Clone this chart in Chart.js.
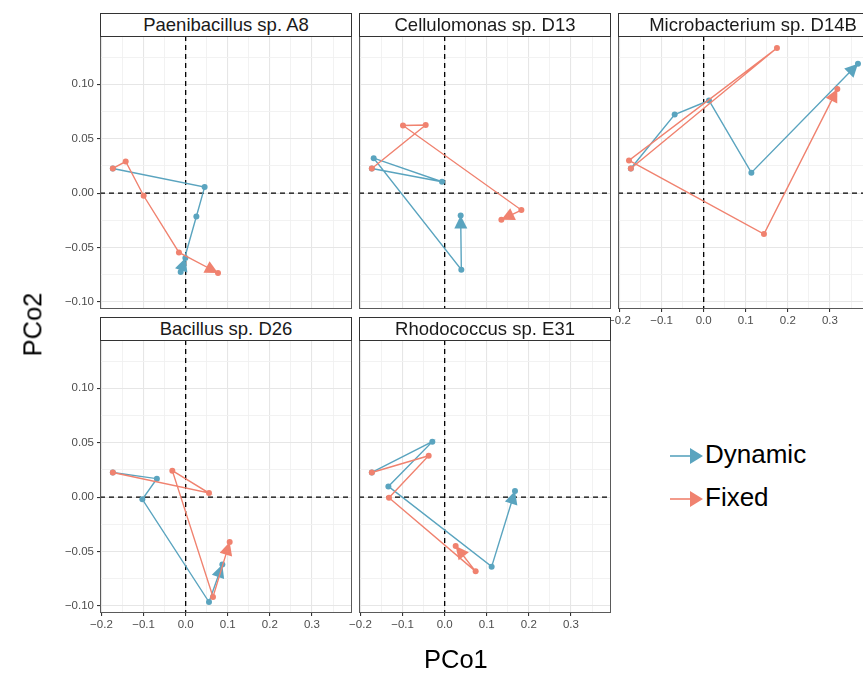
<!DOCTYPE html>
<html><head><meta charset="utf-8">
<script src="https://cdn.jsdelivr.net/npm/chart.js@4.4.0/dist/chart.umd.min.js"></script>
<style>
html,body{margin:0;padding:0;width:863px;height:675px;overflow:hidden;background:#fff;font-family:"Liberation Sans",Arial,Helvetica,sans-serif;}
#root{position:relative;width:863px;height:675px;overflow:hidden;}
canvas.cv{position:absolute;z-index:1;}
.strip{position:absolute;box-sizing:border-box;border:1px solid #333;background:#fff;color:#1a1a1a;font-size:18.5px;line-height:21px;text-align:center;white-space:nowrap;overflow:hidden;z-index:2;}
.axtitle{position:absolute;font-size:25.5px;color:#000;white-space:nowrap;z-index:3;}
.leg{position:absolute;font-size:26px;color:#000;white-space:nowrap;z-index:3;line-height:30px;}
</style></head><body>
<div id="root"></div>
<script>
// ---------------- data ----------------
const PANELS = ['Paenibacillus sp. A8','Cellulomonas sp. D13','Microbacterium sp. D14B','Bacillus sp. D26','Rhodococcus sp. E31'];
const SERIES = ['Dynamic','Fixed'];
const DYNAMIC_PCO1 = [
  [-0.173, 0.045, 0.0254, -0.0119, -0.0007],
  [-0.173, -0.0063, -0.1686, 0.0396, 0.038],
  [-0.173, -0.0689, 0.0126, 0.1133, 0.3665],
  [-0.173, -0.0684, -0.1029, 0.0554, 0.0871],
  [-0.173, -0.0293, -0.1337, 0.1116, 0.167]
];
const DYNAMIC_PCO2 = [
  [0.0226, 0.0055, -0.0215, -0.0726, -0.0597],
  [0.0226, 0.0104, 0.0321, -0.0705, -0.0206],
  [0.0226, 0.0722, 0.0851, 0.0187, 0.1188],
  [0.0226, 0.0169, -0.0021, -0.0965, -0.0621],
  [0.0226, 0.0509, 0.0098, -0.064, 0.0055]
];
const FIXED_PCO1 = [
  [-0.173, -0.1425, -0.0998, -0.016, 0.0768],
  [-0.173, -0.0451, -0.099, 0.1822, 0.1347],
  [-0.173, 0.1741, -0.1774, 0.1432, 0.3175],
  [-0.173, 0.0554, -0.0317, 0.0649, 0.1045],
  [-0.173, -0.038, -0.1323, 0.0736, 0.0261]
];
const FIXED_PCO2 = [
  [0.0226, 0.029, -0.0025, -0.0546, -0.0735],
  [0.0226, 0.0625, 0.0621, -0.0156, -0.0245],
  [0.0226, 0.1333, 0.030, -0.0377, 0.0956],
  [0.0226, 0.0037, 0.0243, -0.0919, -0.0414],
  [0.0226, 0.038, -0.0006, -0.0683, -0.045]
];
const X_TICKS = [-0.2, -0.1, 0, 0.1, 0.2, 0.3];
const X_TICK_LABELS = ['\u22120.2', '\u22120.1', '0.0', '0.1', '0.2', '0.3'];
const X_MINOR = [-0.15, -0.05, 0.05, 0.15, 0.25, 0.35];
const Y_TICKS = [-0.10, -0.05, 0, 0.05, 0.10];
const Y_TICK_LABELS = ['\u22120.10', '\u22120.05', '0.00', '0.05', '0.10'];
const Y_MINOR = [-0.075, -0.025, 0.025, 0.075, 0.125];
const X_RANGE = [-0.2035, 0.3951];
const Y_RANGE = [-0.1066, 0.1444];
const REF_LINE = 0;
const X_TITLE = 'PCo1', Y_TITLE = 'PCo2';

// ---------------- layout / style ----------------
const COLORS = ['#5AA4BF', '#F0826F'];
const COL_LEFT = [100, 359, 618], ROW_TOP = [36, 340], PW = 252, PH = 273;
const GRID_POS = [[0,0],[0,1],[0,2],[1,0],[1,1]];
const STRIP_SHIFT = [0, 0, 18, 0, 0];
const PAD_L = 60, PAD_R = 22, PAD_T = 12, PAD_B = 32, YAXIS_W = 60, XAXIS_H = 22;
const FONT = '"Liberation Sans", Arial, Helvetica, sans-serif';
const root = document.getElementById('root');

const isIn = (arr, v) => arr.some(t => Math.abs(t - v) < 1e-9);

const zeroLines = {
  id: 'zeroLines',
  beforeDatasetsDraw(chart) {
    const {ctx, chartArea: a, scales: {x, y}} = chart;
    const px = x.getPixelForValue(REF_LINE), py = y.getPixelForValue(REF_LINE);
    ctx.save();
    ctx.beginPath(); ctx.rect(a.left, a.top, a.width, a.height); ctx.clip();
    ctx.setLineDash([5, 4]); ctx.strokeStyle = '#000'; ctx.lineWidth = 1.3;
    ctx.beginPath(); ctx.moveTo(px, a.top); ctx.lineTo(px, a.bottom);
    ctx.moveTo(a.left, py); ctx.lineTo(a.right, py); ctx.stroke();
    ctx.restore();
  }
};
const arrowHeads = {
  id: 'arrowHeads',
  afterDatasetDraw(chart, args) {
    const pts = args.meta.data; const n = pts.length; if (n < 2) return;
    const ds = chart.data.datasets[args.index];
    const p1 = pts[n-1], p0 = pts[n-2];
    const ang = Math.atan2(p1.y - p0.y, p1.x - p0.x);
    const L = 13, H = 6.5;
    const ctx = chart.ctx; ctx.save();
    ctx.fillStyle = ds.borderColor;
    ctx.translate(p1.x, p1.y); ctx.rotate(ang);
    ctx.beginPath(); ctx.moveTo(0, 0); ctx.lineTo(-L, -H); ctx.lineTo(-L, H); ctx.closePath(); ctx.fill();
    ctx.restore();
  }
};
const panelBorder = {
  id: 'panelBorder',
  afterDraw(chart) {
    const {ctx, chartArea: a} = chart; ctx.save();
    ctx.strokeStyle = '#5a5a5a'; ctx.lineWidth = 1;
    ctx.strokeRect(Math.round(a.left) + 0.5, Math.round(a.top) + 0.5, Math.round(a.width) - 1, Math.round(a.height) - 1);
    ctx.restore();
  }
};

PANELS.forEach((name, i) => {
  const [r, c] = GRID_POS[i];
  const showY = c === 0;
  const showX = r === 1 || i === 2;
  const cv = document.createElement('canvas');
  cv.className = 'cv';
  const W = PAD_L + PW + PAD_R, H = PAD_T + PH + PAD_B;
  cv.width = W; cv.height = H;
  cv.style.left = (COL_LEFT[c] - PAD_L) + 'px';
  cv.style.top = (ROW_TOP[r] - PAD_T) + 'px';
  cv.style.width = W + 'px'; cv.style.height = H + 'px';
  root.appendChild(cv);

  const strip = document.createElement('div');
  strip.className = 'strip';
  strip.textContent = name;
  strip.style.left = COL_LEFT[c] + 'px';
  strip.style.top = (ROW_TOP[r] - 23) + 'px';
  strip.style.width = PW + 'px'; strip.style.height = '24px';
  strip.style.paddingLeft = STRIP_SHIFT[i] + 'px';
  root.appendChild(strip);

  const xs = [DYNAMIC_PCO1[i], FIXED_PCO1[i]], ys = [DYNAMIC_PCO2[i], FIXED_PCO2[i]];
  const datasets = SERIES.map((s, k) => ({
    label: s,
    data: xs[k].map((x, j) => ({x, y: ys[k][j]})),
    showLine: true,
    borderColor: COLORS[k], backgroundColor: COLORS[k],
    borderWidth: 1.4, pointRadius: 3, pointBorderWidth: 0, pointHoverRadius: 3,
    order: k === 0 ? 1 : 0
  }));

  new Chart(cv, {
    type: 'scatter',
    data: {datasets},
    options: {
      responsive: false, maintainAspectRatio: false, animation: false, devicePixelRatio: 1,
      layout: {padding: {left: showY ? PAD_L - YAXIS_W : PAD_L, right: PAD_R, top: PAD_T, bottom: showX ? PAD_B - XAXIS_H : PAD_B}},
      plugins: {legend: {display: false}, tooltip: {enabled: false}},
      scales: {
        x: {
          type: 'linear', min: X_RANGE[0], max: X_RANGE[1],
          afterBuildTicks: s => { s.ticks = X_TICKS.concat(X_MINOR).sort((a, b) => a - b).map(v => ({value: v})); },
          afterFit: s => { s.height = showX ? XAXIS_H : 0; },
          border: {display: false},
          grid: {
            color: ctx => isIn(X_TICKS, ctx.tick.value) ? '#E6E6E6' : '#F0F0F0',
            lineWidth: ctx => isIn(X_TICKS, ctx.tick.value) ? 1.1 : 0.9,
            drawTicks: showX, tickLength: 3,
            tickColor: ctx => isIn(X_TICKS, ctx.tick.value) ? '#333' : 'rgba(0,0,0,0)'
          },
          ticks: {
            display: showX, autoSkip: false, maxRotation: 0, padding: 2,
            color: '#4D4D4D', font: {family: FONT, size: 11.5},
            callback: v => { const k = X_TICKS.findIndex(t => Math.abs(t - v) < 1e-9); return k >= 0 ? X_TICK_LABELS[k] : ''; }
          }
        },
        y: {
          type: 'linear', min: Y_RANGE[0], max: Y_RANGE[1],
          afterBuildTicks: s => { s.ticks = Y_TICKS.concat(Y_MINOR).sort((a, b) => a - b).map(v => ({value: v})); },
          afterFit: s => { s.width = showY ? YAXIS_W : 0; },
          border: {display: false},
          grid: {
            color: ctx => isIn(Y_TICKS, ctx.tick.value) ? '#E6E6E6' : '#F0F0F0',
            lineWidth: ctx => isIn(Y_TICKS, ctx.tick.value) ? 1.1 : 0.9,
            drawTicks: showY, tickLength: 3,
            tickColor: ctx => isIn(Y_TICKS, ctx.tick.value) ? '#333' : 'rgba(0,0,0,0)'
          },
          ticks: {
            display: showY, autoSkip: false, padding: 3,
            color: '#4D4D4D', font: {family: FONT, size: 11.5},
            callback: v => { const k = Y_TICKS.findIndex(t => Math.abs(t - v) < 1e-9); return k >= 0 ? Y_TICK_LABELS[k] : ''; }
          }
        }
      }
    },
    plugins: [zeroLines, arrowHeads, panelBorder]
  });
});

// axis titles
const xt = document.createElement('div'); xt.className = 'axtitle'; xt.textContent = X_TITLE;
xt.style.left = '424px'; xt.style.top = '645px'; root.appendChild(xt);
const yt = document.createElement('div'); yt.className = 'axtitle'; yt.textContent = Y_TITLE;
yt.style.left = '1px'; yt.style.top = '310px'; yt.style.transform = 'rotate(-90deg)'; yt.style.transformOrigin = 'center center';
root.appendChild(yt);

// legend
const LEG_Y = [456, 499];
SERIES.forEach((s, k) => {
  const svgNS = 'http://www.w3.org/2000/svg';
  const svg = document.createElementNS(svgNS, 'svg');
  svg.setAttribute('width', '40'); svg.setAttribute('height', '20');
  svg.style.position = 'absolute'; svg.style.left = '668px'; svg.style.top = (LEG_Y[k] - 10) + 'px'; svg.style.zIndex = 3;
  const ln = document.createElementNS(svgNS, 'line');
  ln.setAttribute('x1', '2'); ln.setAttribute('y1', '10'); ln.setAttribute('x2', '25'); ln.setAttribute('y2', '10');
  ln.setAttribute('stroke', COLORS[k]); ln.setAttribute('stroke-width', '1.6');
  const tri = document.createElementNS(svgNS, 'polygon');
  tri.setAttribute('points', '35,10 22,2 22,18'); tri.setAttribute('fill', COLORS[k]);
  svg.appendChild(ln); svg.appendChild(tri); root.appendChild(svg);
  const d = document.createElement('div'); d.className = 'leg'; d.textContent = s;
  d.style.left = '705px'; d.style.top = (LEG_Y[k] - 17) + 'px'; root.appendChild(d);
});
</script>
</body></html>
